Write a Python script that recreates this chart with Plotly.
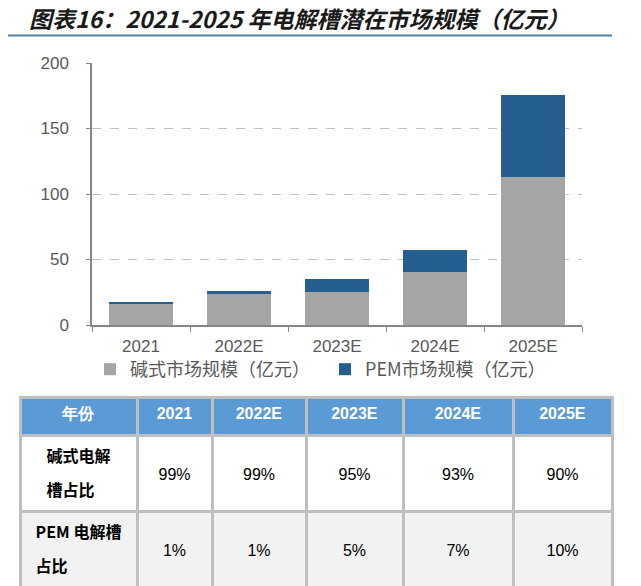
import plotly.graph_objects as go

# data
years = ["2021", "2022E", "2023E", "2024E", "2025E"]
alk_market = [16.2, 23.6, 25.4, 40.2, 113.0]   # 碱式市场规模（亿元）
pem_market = [1.3, 2.4, 9.4, 16.8, 62.8]       # PEM市场规模（亿元）
alk_share = ["99%", "99%", "95%", "93%", "90%"]
pem_share = ["1%", "1%", "5%", "7%", "10%"]
row_labels = ["碱式电解<br>槽占比", "PEM 电解槽<br>占比"]

W, H = 641, 586
OFF = 8  # page body margin, positions below are in screenshot pixels
GRAY = "#A5A5A5"
BLUE = "#255E91"
TXT = "#595959"


def px_x(p):
    return (p - OFF) / W


def px_y(p):
    return 1 - (p - OFF) / H


def span(t, size):
    return '<span style="font-size:%dpx">%s</span>' % (size, t)


fig = go.Figure()

fig.add_trace(go.Bar(x=years, y=alk_market, name="碱式市场规模（亿元）",
                     marker=dict(color=GRAY, line=dict(width=0)), width=0.66))
fig.add_trace(go.Bar(x=years, y=pem_market, name="PEM市场规模（亿元）",
                     marker=dict(color=BLUE, line=dict(width=0)), width=0.66))

# percentage table under the chart
# (larger base font + small spans so the body text sits in the middle of each cell)
header_vals = ["<b>%s</b>" % h for h in ["年份"] + years]
label_col = [span("<b>%s</b>" % r, 16) for r in row_labels]
cell_vals = [label_col] + [["\u00a0<br>" + span(a, 16), "\u00a0<br>" + span(p, 16)]
                           for a, p in zip(alk_share, pem_share)]
col_w = [117, 75, 94, 97, 110, 99]

fig.add_trace(go.Table(
    domain=dict(x=[px_x(20), px_x(612)], y=[0, px_y(397)]),
    columnwidth=col_w,
    header=dict(values=header_vals, fill_color="#5B9BD5", height=38, align="center",
                line=dict(color="#BFBFBF", width=3),
                font=dict(family="Arial", size=16, color="white")),
    cells=dict(values=cell_vals, height=76, align="center",
               fill_color=[["white", "#F2F2F2"]] * 6,
               line=dict(color="#BFBFBF", width=3),
               font=dict(family=["Noto Sans CJK SC"] + ["Arial"] * 5, size=[26] + [17] * 5,
                         color="black")),
))

fig.update_layout(
    width=W, height=H,
    margin=dict(l=0, r=0, t=0, b=0, autoexpand=False),
    paper_bgcolor="white", plot_bgcolor="white",
    barmode="stack", bargap=0.34,
    font=dict(family="Arial", color=TXT),
    showlegend=True,
    legend=dict(orientation="h", x=px_x(90), y=px_y(351), xanchor="left", yanchor="top",
                bgcolor="rgba(0,0,0,0)",
                font=dict(family="Noto Sans CJK SC", size=18, color=TXT),
                entrywidth=190, entrywidthmode="pixels", traceorder="normal"),
    xaxis=dict(domain=[px_x(92), px_x(582)], showline=True, linecolor="#868686", linewidth=1.5,
               ticks="outside", tickson="boundaries", ticklen=5, tickcolor="#868686",
               ticklabelstandoff=5, automargin=False,
               tickfont=dict(size=17, color=TXT), showgrid=False),
    yaxis=dict(domain=[px_y(325), px_y(63)], range=[0, 200], dtick=50,
               showline=True, linecolor="#868686", linewidth=1.5,
               ticks="outside", ticklen=4, tickcolor="#868686", ticklabelstandoff=14,
               tickfont=dict(size=17, color=TXT), automargin=False,
               showgrid=True, gridcolor="#C0C0C0", griddash="dash", gridwidth=1,
               zeroline=False),
    annotations=[dict(text="<b><i>图表16：2021-2025 年电解槽潜在市场规模（亿元）</i></b>",
                      xref="paper", yref="paper", x=px_x(28), y=px_y(18),
                      xanchor="left", yanchor="middle", showarrow=False, borderpad=0,
                      font=dict(family="Noto Sans CJK SC", size=23, color="#1A1A1A"))],
    shapes=[dict(type="line", xref="paper", yref="paper", x0=0, x1=px_x(612),
                 y0=px_y(35.5), y1=px_y(35.5), line=dict(color="#4D82AA", width=2))],
)

fig.write_html("out.html")
